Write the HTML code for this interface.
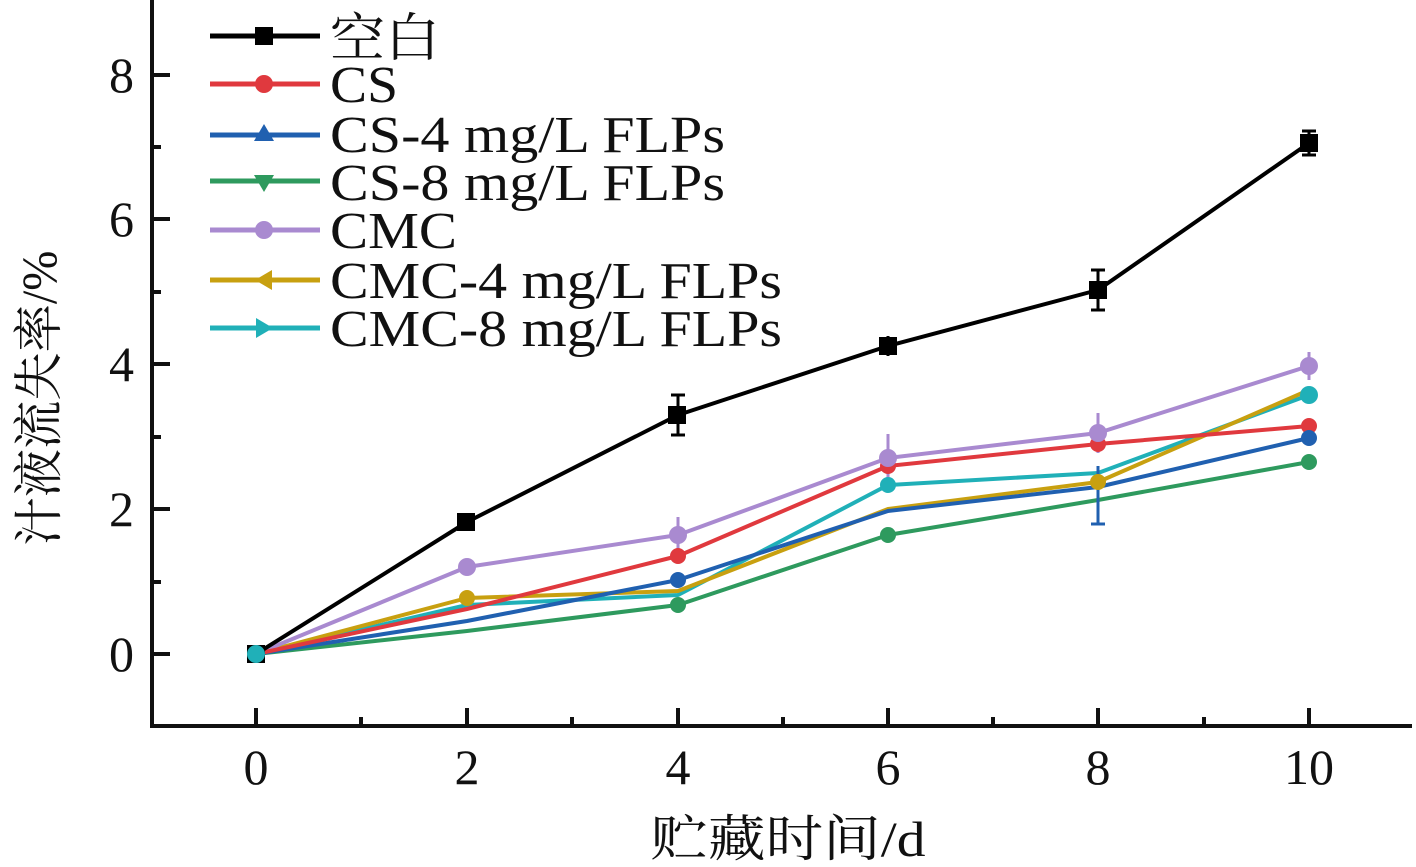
<!DOCTYPE html><html><head><meta charset="utf-8"><style>body{margin:0;background:#fff}svg{display:block}text{font-family:"Liberation Serif","Noto Serif CJK SC",serif;fill:#111}</style></head><body>
<svg width="1416" height="867" viewBox="0 0 1416 867" xmlns="http://www.w3.org/2000/svg">
<g stroke="#111" stroke-width="4" fill="none">
<path d="M152 0V726H1412"/>
<path d="M152 75h18M152 219h18M152 364h18M152 509h18M152 654h18M152 147h9M152 292h9M152 437h9M152 582h9"/>
<path d="M256 726v-18M467 726v-18M678 726v-18M888 726v-18M1098 726v-18M1309 726v-18M361 726v-9M572 726v-9M783 726v-9M993 726v-9M1204 726v-9"/>
</g>
<g font-size="50" text-anchor="end"><text x="134" y="92">8</text><text x="134" y="236">6</text><text x="134" y="381">4</text><text x="134" y="526">2</text><text x="134" y="671">0</text></g>
<g font-size="50" text-anchor="middle"><text x="256" y="784">0</text><text x="467" y="784">2</text><text x="678" y="784">4</text><text x="888" y="784">6</text><text x="1098" y="784">8</text><text x="1309" y="784">10</text>
<text x="788" y="856" textLength="275" lengthAdjust="spacingAndGlyphs">贮藏时间/d</text>
<text transform="translate(56 398) rotate(-90)" textLength="295" lengthAdjust="spacingAndGlyphs">汁液流失率/%</text></g>
<g fill="none" stroke-width="4" stroke-linejoin="round">
<polyline stroke="#20b0b8" points="256,654 467,605 678,595 888,485 1098,473 1309,395"/>
<polyline stroke="#c8a010" points="256,654 467,598 678,591 888,509 1098,482 1309,390"/>
<polyline stroke="#a98ad0" points="256,654 467,567 678,535 888,458 1098,433 1309,366"/>
<polyline stroke="#2e9a5e" points="256,654 467,631 678,605 888,535 1098,500 1309,462"/>
<polyline stroke="#2060b0" points="256,654 467,621 678,580 888,511 1098,487 1309,438"/>
<polyline stroke="#e0393e" points="256,654 467,609 678,556 888,466 1098,444 1309,426"/>
<polyline stroke="#000" points="256,654 467,522 678,415 888,346 1098,290 1309,143"/>
</g>
<g stroke-width="3">
<path stroke="#000" d="M678 395v40M671 395h14M671 435h14M1098 270v40M1091 270h14M1091 310h14M888 336v20M1309 131v24M1302 131h14M1302 155h14"/>
<path stroke="#a98ad0" d="M678 517v36M888 434v48M1098 413v40M1309 352v28"/>
<path stroke="#2060b0" d="M1098 466v58M1091 524h14"/>
</g>
<g fill="#000"><rect x="457" y="513" width="18" height="18"/><rect x="668" y="406" width="18" height="18"/><rect x="879" y="337" width="18" height="18"/><rect x="1089" y="281" width="18" height="18"/><rect x="1300" y="134" width="18" height="18"/><rect x="247" y="645" width="18" height="18"/></g>
<g fill="#e0393e"><circle cx="678" cy="556" r="8"/><circle cx="888" cy="466" r="8"/><circle cx="1098" cy="444" r="8"/><circle cx="1309" cy="426" r="8"/></g>
<g fill="#a98ad0"><circle cx="467" cy="567" r="9"/><circle cx="678" cy="535" r="9"/><circle cx="888" cy="458" r="9"/><circle cx="1098" cy="433" r="9"/><circle cx="1309" cy="366" r="9"/></g>
<g fill="#20b0b8"><circle cx="1309" cy="395" r="9"/><circle cx="888" cy="485" r="8"/><circle cx="256" cy="654" r="9"/></g>
<g fill="#2e9a5e"><circle cx="1309" cy="462" r="8"/><circle cx="888" cy="535" r="8"/><circle cx="678" cy="605" r="8"/></g>
<g fill="#c8a010"><circle cx="467" cy="598" r="8"/><circle cx="1098" cy="482" r="8"/></g>
<g fill="#2060b0"><circle cx="678" cy="580" r="8"/><circle cx="1309" cy="438" r="8"/></g>
<g stroke-width="5">
<path stroke="#000" d="M210 36h110"/><rect x="255" y="27" width="18" height="18" fill="#000"/>
<path stroke="#e0393e" d="M210 84h110"/><circle cx="264" cy="84" r="9" fill="#e0393e"/>
<path stroke="#2060b0" d="M210 135h110"/><path d="M264 124l10 17h-20z" fill="#2060b0"/>
<path stroke="#2e9a5e" d="M210 181h110"/><path d="M264 192l10-17h-20z" fill="#2e9a5e"/>
<path stroke="#a98ad0" d="M210 230h110"/><circle cx="264" cy="230" r="9" fill="#a98ad0"/>
<path stroke="#c8a010" d="M210 280h110"/><path d="M255 280l17-10v20z" fill="#c8a010"/>
<path stroke="#20b0b8" d="M210 328h110"/><path d="M273 328l-17-10v20z" fill="#20b0b8"/>
</g>
<g font-size="52"><text x="330" y="56" textLength="110" lengthAdjust="spacingAndGlyphs">空白</text><text x="330" y="102" textLength="68" lengthAdjust="spacingAndGlyphs">CS</text><text x="330" y="152" textLength="395" lengthAdjust="spacingAndGlyphs">CS-4 mg/L FLPs</text><text x="330" y="200" textLength="395" lengthAdjust="spacingAndGlyphs">CS-8 mg/L FLPs</text><text x="330" y="248" textLength="127" lengthAdjust="spacingAndGlyphs">CMC</text><text x="330" y="298" textLength="452" lengthAdjust="spacingAndGlyphs">CMC-4 mg/L FLPs</text><text x="330" y="346" textLength="452" lengthAdjust="spacingAndGlyphs">CMC-8 mg/L FLPs</text></g>
</svg></body></html>
